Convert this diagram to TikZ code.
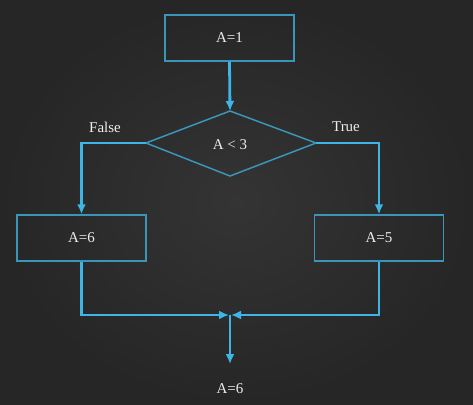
\documentclass[tikz,border=0pt]{standalone}
\usepackage{fontspec}
\setmainfont{Liberation Serif}
\usetikzlibrary{shapes.geometric,arrows.meta}
\definecolor{board}{HTML}{262626}
\definecolor{boardlight}{HTML}{343434}
\definecolor{boxline}{HTML}{3A95BB}
\definecolor{flow}{HTML}{3DB5E6}
\definecolor{chalk}{HTML}{EDEDED}
\begin{document}
\begin{tikzpicture}[x=1pt,y=-1pt,
  stepbox/.style={draw=boxline,line width=1.5pt,minimum width=129pt,minimum height=46pt,inner sep=0pt},
  lbl/.style={text=chalk,font=\fontsize{15}{17}\selectfont},
  flowline/.style={draw=flow,line width=2.8pt,-{Latex[length=10pt,width=9pt]}},
  flowplain/.style={draw=flow,line width=2.8pt}]
\shade[inner color=boardlight,outer color=board] (0,0) rectangle (473,404);
\useasboundingbox (0,0) rectangle (473,404);
\node[stepbox] (a1) at (229.5,38) {};
\node[lbl] at (a1.center) {A=1};
\coordinate (dt) at (230,111);
\coordinate (dl) at (146,143);
\coordinate (dr) at (316,143);
\coordinate (db) at (230,176);
\draw[boxline,line width=1.5pt] (dt) -- (dr) -- (db) -- (dl) -- cycle;
\node[lbl] (cond) at (230,145) {A < 3};
\node[lbl] (f) at (105,127) {False};
\node[lbl] (t) at (346,127) {True};
\node[stepbox] (a6) at (81.5,238) {};
\node[lbl] at (a6.center) {A=6};
\node[stepbox] (a5) at (379,238) {};
\node[lbl] at (a5.center) {A=5};
\coordinate (join) at (230,315);
\node[lbl] (res) at (230,389) {A=6};
\draw[flowline] (a1.south) -- (dt);
\draw[flowline] (dl) -| (a6.north);
\draw[flowline] (dr) -| (a5.north);
\draw[flowline] (a6.south) |- ([xshift=-1pt]join);
\draw[flowline] (a5.south) |- ([xshift=1pt]join);
\draw[flowline] (join) -- (230,364);
\end{tikzpicture}
\end{document}
